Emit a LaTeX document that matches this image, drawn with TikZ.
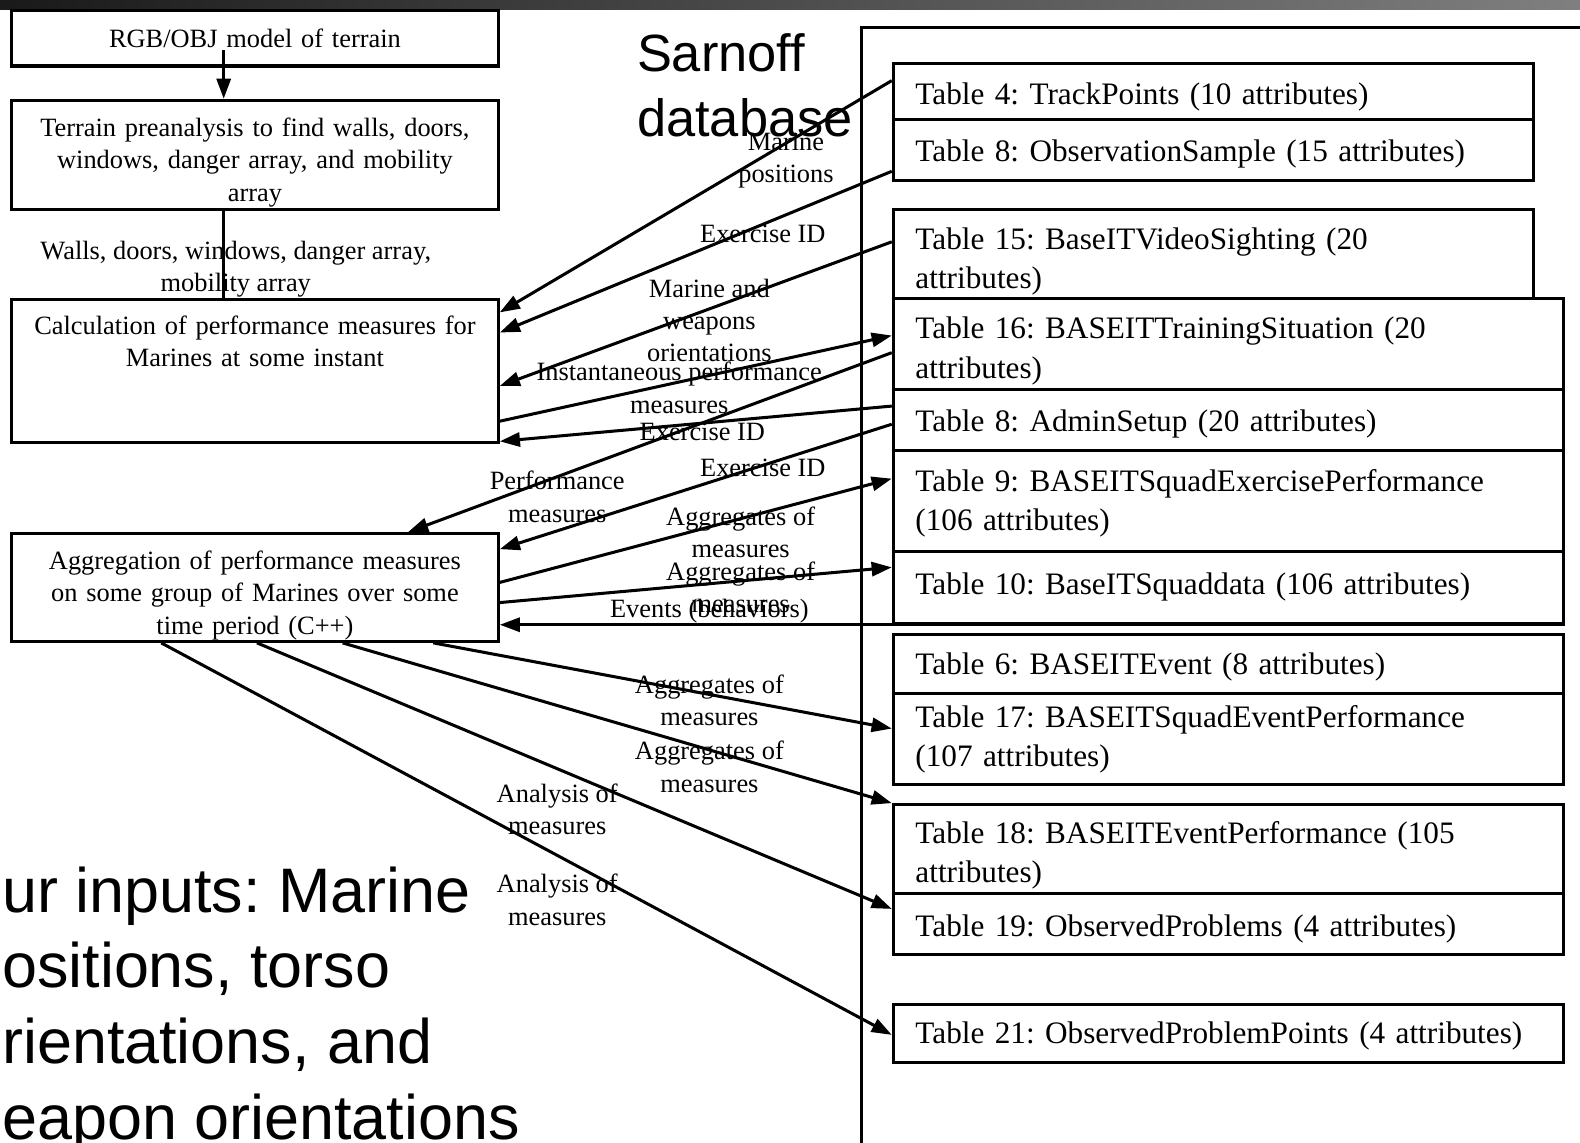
\documentclass[tikz,border=0pt]{standalone}
\usepackage{fontspec}
\setmainfont{Liberation Serif}
\setsansfont{Liberation Sans}
\usetikzlibrary{arrows.meta,calc}
\frenchspacing

\begin{document}
\begin{tikzpicture}[x=1pt, y=-1pt, >={Triangle[length=20pt,width=14pt]},
  box/.style={draw, line width=3pt, anchor=north west, align=center, inner sep=0pt, font=\fontsize{26.2}{32}\selectfont},
  tbl/.style={draw, line width=3pt, anchor=north west, align=left, inner xsep=22pt, inner ysep=0pt, font=\fontsize{31}{39}\selectfont, execute at begin node={\rule{0pt}{#1}}},
  tbl/.default={21pt},
  lbl/.style={align=center, inner sep=0pt, font=\fontsize{26.2}{32}\selectfont},
  link/.style={line width=3pt}]

\useasboundingbox (0,0) rectangle (1568,1134);
\shade[left color=black!90, right color=black!50] (0,0) rectangle (1568,9);

\node[box, text width=483pt, minimum height=55pt] (rgb) at (10,9) {RGB/OBJ model of terrain};
\node[box, text width=483pt, minimum height=108pt] (pre) at (10,98) {\rule{0pt}{34pt}Terrain preanalysis to find walls, doors,\\windows, danger array, and mobility\\array};
\node[box, text width=483pt, minimum height=142pt] (calc) at (10,296) {\rule{0pt}{22pt}Calculation of performance measures for\\Marines at some instant\\~\\~};
\node[box, text width=483pt, minimum height=107pt] (agg) at (10,528) {\rule{0pt}{34pt}Aggregation of performance measures\\on some group of Marines over some\\time period (C++)};

\node[anchor=north west, inner sep=0pt, align=left, font=\sffamily\fontsize{52}{65}\selectfont] (sarnoff) at (632,33) {Sarnoff\\database};
\node[anchor=north west, inner sep=0pt, align=left, font=\sffamily\fontsize{62.4}{75}\selectfont] (inputs) at (2,860) {ur inputs: Marine\\ositions, torso\\rientations, and\\eapon orientations};

\draw[line width=3pt] (855,1134) |- (1568,27);

\node[tbl=32pt, text width=591pt, minimum height=55pt] (t4) at (885,62) {Table 4: TrackPoints (10 attributes)};
\node[tbl=29pt, text width=591pt, minimum height=61pt] (obs) at (885,117) {Table 8: ObservationSample (15 attributes)};
\node[tbl=37pt, text width=591pt, minimum height=89pt] (t15) at (885,206) {Table 15: BaseITVideoSighting (20\\attributes)};
\node[tbl=35pt, text width=621pt, minimum height=90pt] (t16) at (885,295) {Table 16: BASEITTrainingSituation (20\\attributes)};
\node[tbl=29pt, text width=621pt, minimum height=61pt] (admin) at (885,385) {Table 8: AdminSetup (20 attributes)};
\node[tbl=26pt, text width=621pt, minimum height=100pt] (t9) at (885,446) {Table 9: BASEITSquadExercisePerformance\\(106 attributes)};
\node[tbl, text width=621pt, minimum height=71pt] (t10) at (885,546) {Table 10: BaseITSquaddata (106 attributes)};
\node[tbl=27pt, text width=621pt, minimum height=59pt] (t6) at (885,628) {Table 6: BASEITEvent (8 attributes)};
\node[tbl, text width=621pt, minimum height=90pt] (t17) at (885,687) {Table 17: BASEITSquadEventPerformance\\(107 attributes)};
\node[tbl=35pt, text width=621pt, minimum height=88pt] (t18) at (885,797) {Table 18: BASEITEventPerformance (105\\attributes)};
\node[tbl=31pt, text width=621pt, minimum height=61pt] (t19) at (885,885) {Table 19: ObservedProblems (4 attributes)};
\node[tbl=27pt, text width=621pt, minimum height=58pt] (t21) at (885,995) {Table 21: ObservedProblemPoints (4 attributes)};

\draw[link, ->] ($(rgb.south west)+(212,-17)$) -- ($(pre.north west)+(212,0)$);
\draw[link] ($(pre.south west)+(212,0)$) -- ($(calc.north west)+(212,0)$);
\node[lbl] (walls) at (234,267) {Walls, doors, windows, danger array,\\mobility array};

\draw[link, ->] ($(t4.north west)+(0,18)$) -- ($(calc.north east)+(0,14)$);
\draw[link, ->] ($(obs.north west)+(0,53)$) -- ($(calc.north east)+(0,34)$);
\draw[link, ->] ($(t15.north west)+(0,34)$) -- ($(calc.north east)+(0,87)$);
\draw[link, ->] ($(calc.north east)+(0,122)$) -- ($(t16.north west)+(0,38)$);
\draw[link, ->] ($(t16.north west)+(0,55)$) -- ($(agg.north west)+(395,0)$);
\draw[link, ->] ($(admin.north west)+(0,18)$) -- ($(calc.south east)+(0,-3)$);
\draw[link, ->] ($(admin.north west)+(0,36)$) -- ($(agg.north east)+(0,17)$);
\draw[link, ->] ($(agg.north east)+(0,50)$) -- ($(t9.north west)+(0,29)$);
\draw[link, ->] ($(agg.north east)+(0,70)$) -- ($(t10.north west)+(0,17)$);
\draw[link, ->] (t10.south east) -- (agg.east |- t10.south);
\draw[link, ->] ($(agg.south west)+(420,0)$) -- ($(t17.north west)+(0,36)$);
\draw[link, ->] ($(agg.south west)+(330,0)$) -- (t18.north west);
\draw[link, ->] ($(agg.south west)+(245,0)$) -- ($(t19.north west)+(0,17)$);
\draw[link, ->] ($(agg.south west)+(150,0)$) -- ($(t21.north west)+(0,32)$);

\node[lbl] (lpos) at (780,159) {Marine\\positions};
\node[lbl] (lex1) at (757,232) {Exercise ID};
\node[lbl] (lorient) at (704,318) {Marine and\\weapons\\orientations};
\node[lbl] (linst) at (674,385) {Instantaneous performance\\measures};
\node[lbl] (lex2) at (697,429) {Exercise ID};
\node[lbl] (lperf) at (553,493) {Performance\\measures};
\node[lbl] (lex3) at (757,464) {Exercise ID};
\node[lbl] (lagg1) at (735,528) {Aggregates of\\measures};
\node[lbl] (lagg2) at (735,583) {Aggregates of\\measures};
\node[lbl] (levents) at (704,607) {Events (behaviors)};
\node[lbl] (lagg3) at (704,695) {Aggregates of\\measures};
\node[lbl] (lagg4) at (704,761) {Aggregates of\\measures};
\node[lbl] (lana1) at (553,803) {Analysis of\\measures};
\node[lbl] (lana2) at (553,893) {Analysis of\\measures};

\end{tikzpicture}
\end{document}
